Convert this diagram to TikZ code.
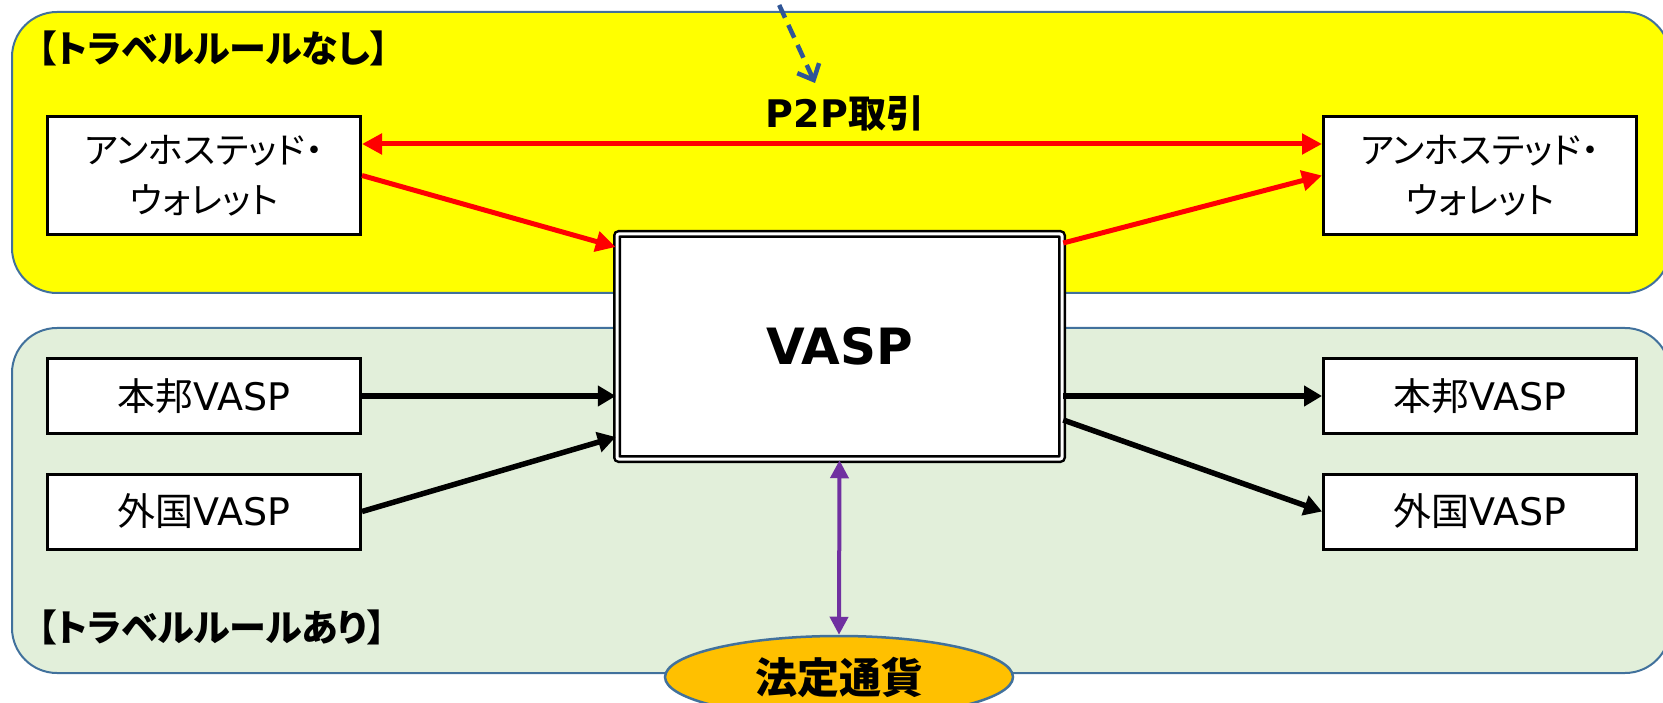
\documentclass[tikz,border=0pt]{standalone}
\usepackage{fontspec}
\setmainfont{Noto Sans CJK JP}[RawFeature=+palt]
\newfontfamily\dvfont{DejaVu Sans}
\usetikzlibrary{arrows.meta,shapes.geometric}
\definecolor{panelborder}{HTML}{41719C}
\definecolor{yellowfill}{HTML}{FFFF00}
\definecolor{greenfill}{HTML}{E2EFDA}
\definecolor{ellfill}{HTML}{FFC000}
\definecolor{purplearrow}{HTML}{7030A0}
\definecolor{bluedash}{HTML}{2F5597}
\begin{document}
\begin{tikzpicture}[x=1pt,y=-1pt,
  panel/.style={draw=panelborder, line width=2pt, rounded corners=45pt},
  box/.style={draw, line width=3pt, fill=white, minimum width=313pt, inner sep=0pt, align=center},
  wallet/.style={box, minimum height=118pt, font=\fontsize{36}{50}\selectfont},
  vaspbox/.style={box, minimum height=75pt, font=\fontsize{38}{44}\selectfont},
  grouplabel/.style={anchor=west, inner sep=0pt, font=\fontsize{37}{40}\selectfont\bfseries},
  redarrow/.style={draw=red, line width=5pt, -{Triangle[length=20pt,width=20pt]}},
  redboth/.style={draw=red, line width=5pt, {Triangle[length=20pt,width=20pt]}-{Triangle[length=20pt,width=20pt]}},
  blackarrow/.style={draw=black, line width=5.5pt, -{Triangle[length=18pt,width=20pt]}},
  purpleboth/.style={draw=purplearrow, line width=4pt, {Triangle[length=18pt,width=18pt]}-{Triangle[length=18pt,width=18pt]}},
  dasharrow/.style={draw=bluedash, line width=4.5pt, dash pattern=on 14pt off 8pt, -{Straight Barb[length=13pt,width=24pt,line width=4.5pt]}}
]
\useasboundingbox (0,0) rectangle (1663,703);
% panels
\draw[panel, fill=yellowfill] (12,12) rectangle (1670,293);
\draw[panel, fill=greenfill] (12,328) rectangle (1670,673);
% group labels
\node[grouplabel] (lbltop) at (38,48) {【トラベルルールなし】};
\node[grouplabel] (lblbot) at (38,627) {【トラベルルールあり】};
% dashed arrow from above
\coordinate (dstart) at (770,-15);
\coordinate (dend) at (815,83);
\draw[dasharrow] (dstart) -- (dend);
% P2P label
\node[inner sep=0pt, font=\fontsize{38}{42}\selectfont\bfseries] (p2p) at (845,113) {{\dvfont P2P}取引};
% boxes
\node[wallet] (wl) at (204,175.5) {アンホステッド・\\ウォレット};
\node[wallet] (wr) at (1480,175.5) {アンホステッド・\\ウォレット};
\node[vaspbox] (hl) at (204,396) {本邦{\dvfont VASP}};
\node[vaspbox] (fl) at (204,511.5) {外国{\dvfont VASP}};
\node[vaspbox] (hr) at (1480,396) {本邦{\dvfont VASP}};
\node[vaspbox] (fr) at (1480,511.5) {外国{\dvfont VASP}};
% central VASP
\node[draw, double, line width=2.5pt, double distance=3pt, fill=white, rounded corners=2pt,
  minimum width=445pt, minimum height=225pt, inner sep=0pt,
  font=\dvfont\fontsize{50}{56}\selectfont\bfseries] (vasp) at (839.5,346.5) {VASP};
% ellipse
\node[ellipse, draw=panelborder, line width=2.5pt, fill=ellfill, minimum width=348pt,
  minimum height=82pt, inner sep=0pt, font=\fontsize{42}{46}\selectfont\bfseries] (fiat) at (839,677) {法定通貨};
% arrows
\draw[redboth] ([yshift=31.5pt]wl.east) -- ([yshift=31.5pt]wr.west);
\draw[redarrow] (wl.east) -- ([yshift=99.5pt]vasp.west);
\draw[redarrow] ([yshift=103.5pt]vasp.east) -- (wr.west);
\draw[blackarrow] (hl.east) -- ([yshift=-49.5pt]vasp.west);
\draw[blackarrow] (fl.east) -- ([yshift=-90.5pt]vasp.west);
\draw[blackarrow] ([yshift=-49.5pt]vasp.east) -- (hr.west);
\draw[blackarrow] ([yshift=-73.5pt]vasp.east) -- (fr.west);
\draw[purpleboth] (vasp.south) -- (fiat.north);
\end{tikzpicture}
\end{document}
